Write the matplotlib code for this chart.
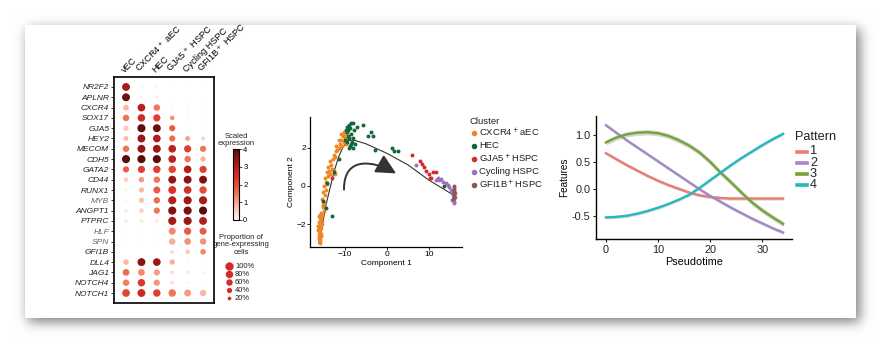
import numpy as np
import matplotlib
matplotlib.use('Agg')
import matplotlib.pyplot as plt
from matplotlib.colors import LinearSegmentedColormap
from matplotlib.patches import FancyArrowPatch
from matplotlib.path import Path

plt.rcParams['font.family'] = ['Liberation Sans', 'DejaVu Sans']

W, H = 882, 344

# ---- dot plot data ----
genes = ['NR2F2', 'APLNR', 'CXCR4', 'SOX17', 'GJA5', 'HEY2', 'MECOM', 'CDH5', 'GATA2',
         'CD44', 'RUNX1', 'MYB', 'ANGPT1', 'PTPRC', 'HLF', 'SPN', 'GFI1B', 'DLL4',
         'JAG1', 'NOTCH4', 'NOTCH1']
light_genes = ['MYB', 'HLF', 'SPN']
clusters = ['vEC', 'CXCR4$^+$ aEC', 'HEC', 'GJA5$^+$ HSPC', 'Cycling HSPC', 'GFI1B$^+$ HSPC']

# percent of cells expressing
pct = np.array([
    [90, 10, 10, 5, 5, 5],
    [90, 10, 10, 2, 2, 2],
    [50, 85, 60, 5, 5, 5],
    [60, 80, 75, 30, 5, 5],
    [40, 95, 90, 55, 5, 5],
    [35, 90, 85, 55, 35, 20],
    [60, 90, 90, 85, 75, 55],
    [95, 95, 95, 85, 60, 40],
    [55, 75, 80, 80, 85, 75],
    [30, 45, 60, 90, 90, 90],
    [10, 40, 70, 90, 85, 80],
    [10, 40, 60, 95, 95, 95],
    [15, 30, 55, 95, 95, 95],
    [15, 20, 20, 95, 95, 90],
    [5, 5, 5, 70, 75, 70],
    [5, 5, 5, 60, 65, 60],
    [0, 0, 0, 20, 30, 45],
    [45, 90, 85, 40, 5, 5],
    [65, 65, 55, 25, 20, 15],
    [60, 80, 55, 20, 10, 5],
    [85, 90, 80, 80, 70, 60],
])

# scaled expression
expr = np.array([
    [3.2, 0.1, 0.1, 0.0, 0.0, 0.0],
    [3.8, 0.2, 0.2, 0.0, 0.0, 0.0],
    [0.8, 3.0, 1.5, 0.1, 0.1, 0.0],
    [1.5, 2.6, 2.2, 1.2, 0.1, 0.1],
    [0.6, 3.9, 3.8, 1.8, 0.1, 0.1],
    [0.8, 3.3, 3.1, 1.6, 1.0, 0.5],
    [1.5, 3.4, 3.3, 2.9, 2.2, 1.5],
    [4.0, 4.0, 4.0, 2.9, 1.5, 0.9],
    [1.8, 2.2, 2.2, 2.1, 3.0, 2.2],
    [0.5, 1.1, 1.5, 3.4, 3.5, 3.6],
    [0.2, 0.8, 1.8, 2.4, 2.5, 2.0],
    [0.1, 0.7, 1.6, 3.0, 3.3, 3.2],
    [0.2, 0.5, 1.5, 3.6, 3.7, 4.0],
    [0.2, 0.2, 0.2, 3.2, 3.3, 3.0],
    [0.1, 0.1, 0.1, 1.3, 1.8, 1.8],
    [0.0, 0.0, 0.0, 0.9, 1.2, 1.2],
    [0.0, 0.0, 0.0, 0.4, 0.6, 1.3],
    [0.8, 3.5, 3.3, 0.9, 0.1, 0.1],
    [1.6, 1.3, 1.1, 0.3, 0.2, 0.1],
    [1.4, 2.3, 1.2, 0.3, 0.1, 0.1],
    [2.1, 2.6, 2.2, 1.5, 1.1, 0.8],
])
legend_pct = [100, 80, 60, 40, 20]

# ---- trajectory data ----
aec_x = [-16.0, -16.2, -15.8, -16.1, -15.9, -16.3, -15.7, -16.0, -15.8, -16.2, -15.6, -15.9,
         -16.1, -15.5, -15.8, -16.0, -15.6, -16.4, -15.5, -15.7, -16.1, -15.9, -15.6, -16.2,
         -15.9, -15.3, -15.0, -15.4, -14.8, -15.1, -14.6, -14.9, -14.5, -14.2, -14.7, -14.0,
         -14.3, -13.8, -13.5, -13.9, -13.4, -13.1, -13.6, -12.9, -12.7, -12.4, -12.2, -11.8,
         -12.0, -11.4, -11.1, -11.5, -10.9, -10.5, -10.2, -10.6, -9.9, -10.3, -9.6, -9.8,
         -14.9, -15.2, -12.6, -12.3, -10.0, -10.8]
aec_y = [-2.9, -2.7, -2.8, -2.5, -2.4, -2.3, -2.2, -2.1, -2.0, -1.9, -1.8, -1.7,
         -1.6, -1.6, -1.5, -2.6, -2.5, -2.1, -2.0, -2.6, -2.2, -1.9, -1.4, -2.8,
         -3.0, -1.1, -0.9, -0.7, -0.5, -0.3, -0.2, 0.0, 0.2, 0.1, 0.4, 0.5,
         0.7, 0.8, 0.6, 1.0, 1.1, 0.9, 1.3, 1.4, 1.6, 1.5, 1.8, 1.9,
         2.1, 2.0, 2.2, 2.4, 2.4, 2.6, 2.3, 2.1, 2.7, 2.8, 2.5, 2.2,
         -1.3, -1.0, 0.8, 0.6, 2.5, 2.7]
hec_x = [-9.6, -9.3, -9.0, -8.7, -9.2, -8.9, -8.5, -9.5, -8.3, -8.8, -9.1, -8.0, -7.8,
         -8.1, -7.1, -5.7, -3.8, -4.5, -3.3, -2.9, 1.2, 1.7, 2.6, -7.5, -8.5, -9.8, -10.0,
         -8.0, -9.4, -8.6, -11.4, -12.6, -14.3, -15.2, -14.5, -13.1, 13.6]
hec_y = [3.1, 2.9, 3.2, 3.0, 2.6, 2.5, 2.7, 2.3, 2.3, 2.1, 2.0, 2.5, 2.9,
         3.3, 3.1, 3.2, 2.8, 2.6, 2.6, 1.9, 2.0, 1.8, 1.8, 2.2, 3.3, 2.9, 2.4,
         2.0, 2.8, 2.2, 1.4, 0.7, 0.15, -0.8, -1.15, -1.6, 0.0]
gja5_x = [6.0, 7.9, 8.3, 9.3, 10.0, 10.2, 10.9, 8.8, 10.5, 11.7, -13.1]
gja5_y = [1.6, 1.3, 1.15, 0.75, 0.6, 0.4, 0.7, 1.0, 0.4, 0.7, 0.4]
cyc_x = [6.9, 11.7, 12.4, 13.3, 14.0, 14.8, 15.2, 15.7, 16.0, 12.2, 15.5, 16.2, 15.9,
         16.3, 15.6, 16.1, 14.5, 13.0]
cyc_y = [1.1, 0.3, 0.3, 0.2, 0.15, -0.05, -0.2, -0.5, -0.7, 0.4, -0.35, -0.6, -0.85,
         -0.4, -0.75, -0.9, 0.05, 0.35]
gfi_x = [15.9, 15.9, 16.0, 15.9, 16.0, 15.9, 16.0, 15.8]
gfi_y = [0.0, -0.1, -0.2, -0.3, -0.4, -0.5, -0.6, -0.7]

traj_x = [-16.2, -15.3, -14.5, -13.5, -12.5, -11.5, -10.5, -9.5, -8.0, -5.0, 0.0, 5.0, 10.0, 13.0, 16.0]
traj_y = [-3.0, -2.0, -1.0, -0.1, 0.8, 1.5, 2.0, 2.35, 2.4, 2.2, 1.7, 1.1, 0.3, -0.1, -0.5]

cluster_names = ['CXCR4$^+$aEC', 'HEC', 'GJA5$^+$HSPC', 'Cycling HSPC', 'GFI1B$^+$HSPC']
cluster_colors = ['#F08524', '#12683A', '#D42A2C', '#9B70C0', '#8B5A4C']

# ---- pattern data ----
pseudotime = list(range(0, 35, 2))
pattern_vals = {
    '1': [0.66, 0.55, 0.44, 0.34, 0.24, 0.15, 0.07, 0.0, -0.07, -0.12, -0.15, -0.17, -0.18,
          -0.18, -0.18, -0.18, -0.18, -0.18],
    '2': [1.18, 1.04, 0.90, 0.77, 0.64, 0.51, 0.38, 0.25, 0.12, -0.01, -0.13, -0.24, -0.35,
          -0.45, -0.55, -0.64, -0.73, -0.81],
    '3': [0.86, 0.95, 1.01, 1.04, 1.05, 1.03, 0.98, 0.90, 0.80, 0.67, 0.50, 0.30, 0.12,
          -0.07, -0.25, -0.40, -0.53, -0.65],
    '4': [-0.53, -0.52, -0.50, -0.46, -0.41, -0.35, -0.28, -0.20, -0.11, 0.02, 0.16, 0.30,
          0.44, 0.57, 0.69, 0.81, 0.92, 1.02],
}
pattern_se = {'1': 0.03, '2': 0.03, '3': 0.05, '4': 0.03}
pattern_colors = {'1': '#EC7B72', '2': '#A488C8', '3': '#72A534', '4': '#24B8C0'}


def box(l, t, r, b):
    return [l / W, 1 - b / H, (r - l) / W, (b - t) / H]


fig = plt.figure(figsize=(W / 100, H / 100), dpi=100)

# card with soft drop shadow
mask = np.zeros((H, W))
mask[29:322, 28:860] = 1.0
k = np.exp(-0.5 * (np.arange(-18, 19) / 6.0) ** 2)
k /= k.sum()
blur = np.apply_along_axis(lambda r: np.convolve(r, k, mode='same'), 1, mask)
blur = np.apply_along_axis(lambda c: np.convolve(c, k, mode='same'), 0, blur)
img = 1 - 0.5 * blur
img[25:318, 25:856] = 1.0
bg = fig.add_axes([0, 0, 1, 1], zorder=-10)
bg.imshow(np.dstack([img] * 3), aspect='auto', extent=(0, W, H, 0))
bg.axis('off')

overlay = fig.add_axes([0, 0, 1, 1], zorder=10)
overlay.set_xlim(0, W)
overlay.set_ylim(H, 0)
overlay.axis('off')
overlay.patch.set_visible(False)

# ---- dot plot ----
dot_scale = 36
cmap = LinearSegmentedColormap.from_list(
    'expr', ['#FFF7F3', '#F9B9A3', '#EF6B4D', '#D8322A', '#A91A1A', '#5A0B0E'])
ax1 = fig.add_axes(box(114, 77, 214, 303))
gx, gy = np.meshgrid(np.arange(len(clusters)), np.arange(len(genes)))
sc = ax1.scatter(gx.ravel(), gy.ravel(), s=pct.ravel() / 100 * dot_scale, c=expr.ravel(),
                 cmap=cmap, vmin=0, vmax=4, linewidths=0)
ax1.set_xlim(-0.78, 5.71)
ax1.set_ylim(20.97, -0.97)
ax1.set_yticks(range(len(genes)))
ax1.set_yticklabels(genes, fontsize=6, style='italic')
for lbl in ax1.get_yticklabels():
    lbl.set_color('#666666' if lbl.get_text() in light_genes else '#222222')
ax1.tick_params(axis='y', length=2, width=0.6, pad=1.5)
ax1.xaxis.tick_top()
ax1.set_xticks(range(len(clusters)))
ax1.set_xticklabels(clusters, fontsize=6.6, rotation=45, ha='left', rotation_mode='anchor')
ax1.tick_params(axis='x', length=0, pad=2)
for sp in ax1.spines.values():
    sp.set_linewidth(1.2)

cax = fig.add_axes(box(233, 149, 239, 220))
cb = fig.colorbar(sc, cax=cax, ticks=[0, 1, 2, 3, 4])
cb.ax.tick_params(labelsize=5.5, length=2, width=0.5, pad=1)
cb.outline.set_linewidth(0.8)
overlay.text(236, 140, 'Scaled\nexpression', fontsize=5.5, ha='center', va='center',
             linespacing=1.0, color='#222222')
overlay.text(241, 245, 'Proportion of\ngene-expressing\ncells', fontsize=5.5, ha='center',
             va='center', linespacing=1.1, color='#222222')
for i, p in enumerate(legend_pct):
    yy = 266 + i * 8
    overlay.scatter([229], [yy], s=p / 100 * dot_scale, color='#D42A2C', linewidths=0)
    overlay.text(235, yy, f'{p}%', fontsize=5.5, va='center', color='#222222')

# ---- trajectory ----
ax2 = fig.add_axes(box(310, 117, 462, 247))
ax2.plot(traj_x, traj_y, color='#333333', lw=0.8, zorder=1)
pts = [(aec_x, aec_y), (hec_x, hec_y), (gja5_x, gja5_y), (cyc_x, cyc_y), (gfi_x, gfi_y)]
for (px_, py_), col in zip(pts, cluster_colors):
    ax2.scatter(px_, py_, s=8, color=col, linewidths=0, zorder=2)
# direction arrow
arrow_path = Path([(-10.2, -0.2), (-10.3, 1.6), (-3.0, 1.3), (2.2, 0.65)],
                  [Path.MOVETO, Path.CURVE4, Path.CURVE4, Path.CURVE4])
ax2.add_patch(FancyArrowPatch(path=arrow_path, arrowstyle='-|>,head_length=1.1,head_width=0.55',
                              mutation_scale=11, color='#333333', lw=1.4,
                              shrinkA=0, shrinkB=0))
ax2.set_xlim(-18.3, 17.9)
ax2.set_ylim(-3.2, 3.6)
ax2.set_xticks([-10, 0, 10])
ax2.set_yticks([-2, 0, 2])
ax2.tick_params(labelsize=6, length=2, width=0.6, pad=1)
ax2.spines[['top', 'right']].set_visible(False)
for sp in ['left', 'bottom']:
    ax2.spines[sp].set_linewidth(0.9)
ax2.set_xlabel('Component 1', fontsize=6, labelpad=1)
ax2.set_ylabel('Component 2', fontsize=6, labelpad=1)

overlay.text(470, 122, 'Cluster', fontsize=6.8, va='center', color='#222222')
for i, (name, col) in enumerate(zip(cluster_names, cluster_colors)):
    yy = 133 + i * 13
    overlay.scatter([474], [yy], s=16, color=col, linewidths=0)
    overlay.text(479, yy, name, fontsize=6.8, va='center', color='#222222')

# ---- patterns ----
ax3 = fig.add_axes(box(596, 116, 792, 239))
for key, vals in pattern_vals.items():
    v = np.array(vals)
    se = pattern_se[key]
    ax3.fill_between(pseudotime, v - se, v + se, color='#BBBBBB', alpha=0.6, lw=0)
    ax3.plot(pseudotime, v, color=pattern_colors[key], lw=1.7)
ax3.set_xlim(-1.9, 35.7)
ax3.set_ylim(-0.93, 1.35)
ax3.set_xticks([0, 10, 20, 30])
ax3.set_yticks([-0.5, 0.0, 0.5, 1.0])
ax3.set_yticklabels(['-0.5', '0.0', '0.5', '1.0'])
ax3.tick_params(labelsize=7.8, length=2.5, width=0.8, pad=1.5, colors='#222222')
ax3.spines[['top', 'right']].set_visible(False)
for sp in ['left', 'bottom']:
    ax3.spines[sp].set_linewidth(1.0)
ax3.set_xlabel('Pseudotime', fontsize=7.8, labelpad=2)
ax3.set_ylabel('Features', fontsize=7.2, labelpad=2)

overlay.text(795, 137, 'Pattern', fontsize=9.2, va='center', color='#222222')
for i, key in enumerate(pattern_vals):
    yy = 151.5 + i * 11.3
    overlay.plot([797, 807], [yy, yy], color=pattern_colors[key], lw=2.6)
    overlay.text(810, yy, key, fontsize=9.2, va='center', color='#222222')

fig.savefig('out.png', dpi=100)
